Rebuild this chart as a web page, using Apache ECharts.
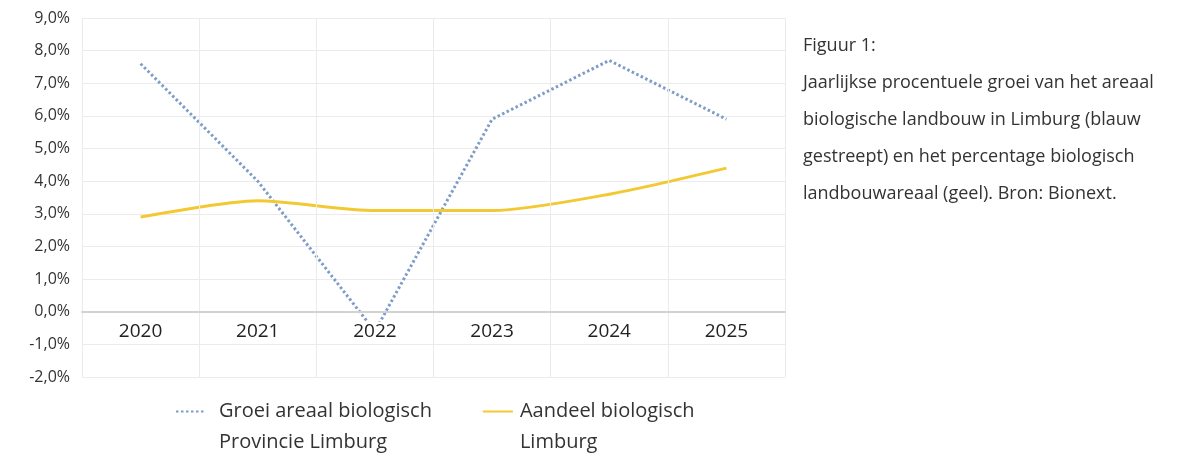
<!DOCTYPE html>
<html lang="nl">
<head>
    <meta charset="UTF-8">
    <title>Groei areaal biologisch Limburg</title>
    <script src="https://cdn.jsdelivr.net/npm/echarts/dist/echarts.min.js"></script>
    <style>
        body { margin: 0; background: #fff; }
    </style>
</head>
<body>
    <div id="main" style="width: 1192px; height: 455px;"></div>

    <script>
        // Data
        var years = ['2020', '2021', '2022', '2023', '2024', '2025'];
        var groeiAreaal = [7.6, 4.0, -0.6, 5.9, 7.7, 5.9];      // blue dotted
        var aandeelBiologisch = [2.9, 3.4, 3.1, 3.1, 3.6, 4.4]; // yellow

        var captionLines = [
            'Figuur 1:',
            'Jaarlijkse procentuele groei van het areaal',
            'biologische landbouw in Limburg (blauw',
            'gestreept) en het percentage biologisch',
            'landbouwareaal (geel). Bron: Bionext.'
        ];

        var font = '"Open Sans", "Noto Sans", sans-serif';
        var chart = echarts.init(document.getElementById('main'));

        var option = {
            backgroundColor: '#fff',
            textStyle: { fontFamily: font },
            title: {
                text: captionLines.join('\n'),
                left: 803,
                top: 27,
                padding: 0,
                textStyle: {
                    fontSize: 18,
                    fontWeight: 'normal',
                    color: '#333',
                    lineHeight: 37,
                    fontFamily: font
                }
            },
            legend: {
                left: 175,
                top: 365,
                padding: 0,
                itemWidth: 30,
                itemHeight: 10,
                itemGap: 50,
                itemStyle: { opacity: 0 },
                // leading blank line keeps the icon level with the first text line
                formatter: function (name) { return '\n' + name; },
                textStyle: {
                    fontSize: 20,
                    color: '#333',
                    lineHeight: 31,
                    padding: [0, 0, 0, 8]
                },
                data: [
                    { name: 'Groei areaal biologisch\nProvincie Limburg' },
                    { name: 'Aandeel biologisch\nLimburg', textStyle: { padding: [0, 0, 0, 2] } }
                ]
            },
            grid: { left: 82, right: 407, top: 18, bottom: 78 },
            xAxis: {
                type: 'category',
                data: years,
                z: 5,
                offset: -65.3,
                axisLine: { onZero: false, lineStyle: { color: '#d2d2d2', width: 2 } },
                axisTick: { show: false },
                axisLabel: {
                    fontSize: 19,
                    color: '#222',
                    margin: 10,
                    backgroundColor: '#fff',
                    padding: [0, 2]
                },
                splitLine: { show: true, lineStyle: { color: '#ebebeb' } }
            },
            yAxis: {
                type: 'value',
                min: -2,
                max: 9,
                interval: 1,
                axisLine: { show: false },
                axisTick: { show: false },
                axisLabel: {
                    fontSize: 16,
                    color: '#333',
                    margin: 12,
                    formatter: function (v) { return v.toFixed(1).replace('.', ',') + '%'; }
                },
                splitLine: { lineStyle: { color: '#ebebeb' } }
            },
            series: [
                {
                    name: 'Groei areaal biologisch\nProvincie Limburg',
                    type: 'line',
                    data: groeiAreaal,
                    symbol: 'none',
                    z: 2,
                    lineStyle: { color: '#7d9cc6', width: 3, type: [2.5, 2.5] },
                    itemStyle: { color: '#7d9cc6' }
                },
                {
                    name: 'Aandeel biologisch\nLimburg',
                    type: 'line',
                    data: aandeelBiologisch,
                    symbol: 'none',
                    smooth: 0.25,
                    z: 2,
                    lineStyle: { color: '#f3c933', width: 3 },
                    itemStyle: { color: '#f3c933' }
                }
            ]
        };

        chart.setOption(option);
    </script>
</body>
</html>
